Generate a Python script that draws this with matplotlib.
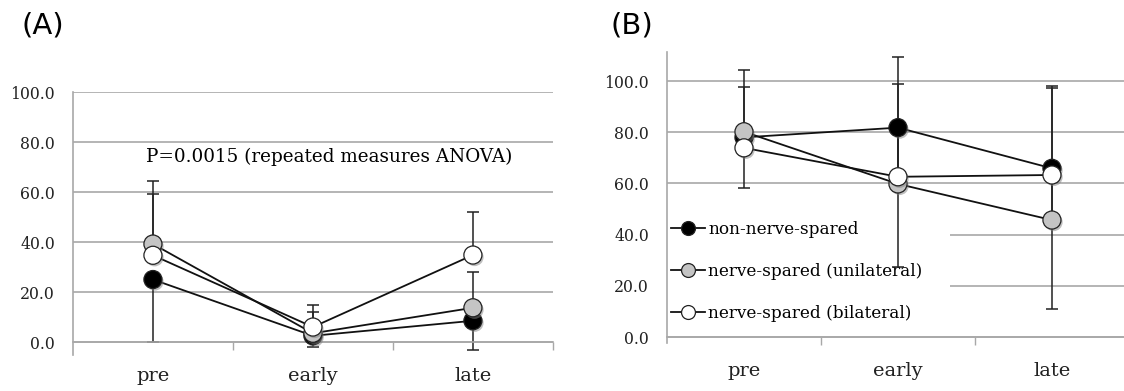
import matplotlib
matplotlib.use("Agg")
import matplotlib.pyplot as plt
import matplotlib.patheffects as pe

cats = ["pre", "early", "late"]
names = ["non-nerve-spared", "nerve-spared (unilateral)", "nerve-spared (bilateral)"]
fills = ["black", "#c4c4c4", "white"]

# panel A
a_non = [25, 2.5, 8.5]
a_uni = [39.2, 3.5, 13.7]
a_bil = [34.7, 6, 34.8]
a_non_err = [25, 4.5, 11.7]   # lower only
a_uni_err = [25.3, 8.5, 14.3]  # upper only
a_bil_err = [24.5, 9, 17.2]    # upper only

# panel B
b_non = [78, 81.8, 65.9]
b_uni = [80.2, 59.8, 45.7]
b_bil = [73.9, 62.6, 63.3]
b_non_err = [19.9, 54.3, 55.0]
b_uni_err = [24.1, 49.7, 52.3]
b_bil_err = [23.9, 36.2, 34.1]

yticks = [0, 20, 40, 60, 80, 100]
pval = "P=0.0015 (repeated measures ANOVA)"

plt.rcParams['font.family'] = 'DejaVu Serif'
grid_c = '#a8a8a8'
shadow = [pe.SimplePatchShadow(offset=(1.2, -1.5), shadow_rgbFace='#808080', alpha=0.5), pe.Normal()]

fig = plt.figure(figsize=(11.24, 3.91), dpi=100)
axA = fig.add_axes([0.0649, 0.092, 0.427, 0.6726])
axB = fig.add_axes([0.5934, 0.1217, 0.411, 0.7463])


def draw(ax, series, errs, dirs):
    x = range(len(cats))
    for s, e, d in zip(series, errs, dirs):
        lo = e if d < 0 else [0] * len(e)
        hi = e if d > 0 else [0] * len(e)
        ax.errorbar(x, s, yerr=[lo, hi], fmt='none', ecolor='#222222',
                    elinewidth=1.1, capsize=4, capthick=1.1, zorder=2)
    handles = []
    for s, f, n in zip(series, fills, names):
        ax.plot(x, s, color='#111111', lw=1.3, zorder=3)
        m, = ax.plot(x, s, 'o', ms=13, mfc=f, mec='#222222', mew=0.9, zorder=4)
        m.set_path_effects(shadow)
        h, = ax.plot([], [], '-o', color='#111111', lw=1.3, ms=10, mfc=f, mec='#222222', mew=0.9)
        handles.append(h)
    ax.set_xlim(-0.5, 2.5)
    ax.set_yticks(yticks)
    ax.set_yticklabels(["%.1f" % v for v in yticks])
    ax.tick_params(axis='y', length=0, pad=13, colors='#222222', labelsize=11.3)
    ax.set_xticks(range(len(cats)))
    ax.set_xticklabels(cats)
    ax.set_xticks([0.5, 1.5, 2.5], minor=True)
    ax.tick_params(axis='x', which='major', length=0, pad=18, colors='#222222', labelsize=14)
    ax.tick_params(axis='x', which='minor', length=6, width=1, color=grid_c)
    ax.yaxis.grid(True, color=grid_c, lw=1.2)
    ax.set_axisbelow(True)
    ax.spines['top'].set_visible(False)
    ax.spines['right'].set_visible(False)
    ax.spines['bottom'].set_position(('data', 0))
    ax.spines['bottom'].set_color(grid_c)
    ax.spines['left'].set_color(grid_c)
    ax.spines['bottom'].set_linewidth(1.2)
    ax.spines['left'].set_linewidth(1.2)
    return handles


draw(axA, [a_non, a_uni, a_bil], [a_non_err, a_uni_err, a_bil_err], [-1, 1, 1])
axA.set_ylim(-5.2, 100)
axA.text(1.1, 74, pval, ha='center', va='center', fontsize=13.2)

hB = draw(axB, [b_non, b_uni, b_bil], [b_non_err, b_uni_err, b_bil_err], [-1, 1, 1])
axB.set_ylim(-2.5, 111.5)
leg = axB.legend(hB, names, loc='upper left', bbox_to_anchor=(-0.01, 0.45, 0.6226, 0.0),
                 mode='expand', frameon=True, fontsize=12.2, handlelength=2.0, handletextpad=0.2,
                 labelspacing=1.5, borderpad=0.5, borderaxespad=0.0, fancybox=False)
leg.get_frame().set_facecolor('white')
leg.get_frame().set_edgecolor('none')
leg.get_frame().set_alpha(1)
leg.set_zorder(1.5)

fig.text(0.019, 0.935, "(A)", family='DejaVu Sans', fontsize=21, va='center')
fig.text(0.543, 0.935, "(B)", family='DejaVu Sans', fontsize=21, va='center')

fig.savefig("out.png", dpi=100)
